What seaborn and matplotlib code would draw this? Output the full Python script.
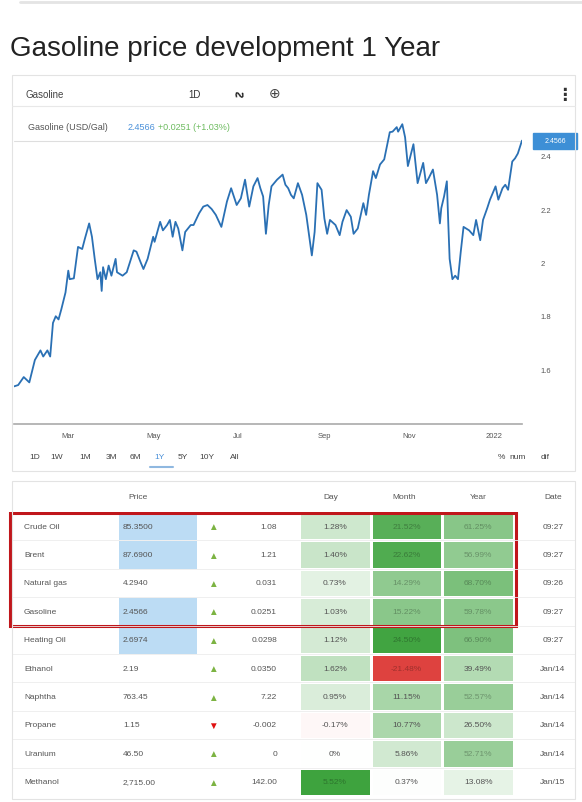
import numpy as np
import pandas as pd
import seaborn as sns
import matplotlib.pyplot as plt
from matplotlib.colors import LinearSegmentedColormap, ListedColormap
from matplotlib.patches import Rectangle
from matplotlib.ticker import FuncFormatter

sns.set_theme(style="white")
plt.rcParams['font.family'] = ['Liberation Sans', 'DejaVu Sans']

W, H = 582, 803

#%% data - gasoline price, 1 year
start = pd.Timestamp("2021-03-01")
day_offset = [-39, -36, -32, -28, -24, -20, -18, -15, -13, -11,
              -9, -7, -5, -2, 0, 1, 4, 7, 10, 12,
              15, 17, 19, 21, 23, 24, 25, 27, 29, 31,
              34, 35, 39, 42, 47, 49, 52, 54, 57, 61,
              62, 66, 68, 71, 73, 75, 77, 79, 82, 84,
              88, 90, 94, 97, 100, 103, 106, 110, 114, 117,
              121, 124, 127, 130, 133, 136, 138, 140, 142, 144,
              146, 150, 154, 156, 158, 160, 162, 165, 168, 171,
              175, 177, 179, 182, 184, 186, 188, 192, 195, 197,
              200, 203, 205, 208, 212, 214, 216, 219, 221, 224,
              227, 231, 233, 236, 237, 240, 242, 244, 248, 251,
              255, 257, 259, 262, 265, 267, 268, 270, 272, 273,
              274, 276, 278, 280, 282, 284, 288, 291, 293, 296,
              298, 301, 303, 307, 309, 312, 314, 316, 319, 321,
              323, 326]
gas_price = [1.535, 1.54, 1.57, 1.55, 1.634, 1.67, 1.647, 1.67, 1.647, 1.773,
             1.798, 1.786, 1.824, 1.887, 1.969, 1.937, 1.94, 2.058, 2.05, 2.09,
             2.146, 2.096, 2.013, 1.937, 1.963, 1.893, 1.982, 1.937, 1.988, 1.95,
             2.013, 1.963, 1.95, 1.963, 2.045, 2.04, 2.0, 1.975, 2.013, 2.096,
             2.077, 2.152, 2.12, 2.14, 2.159, 2.096, 2.152, 2.127, 2.045, 2.114,
             2.14, 2.14, 2.184, 2.209, 2.215, 2.2, 2.178, 2.133, 2.228, 2.278,
             2.215, 2.24, 2.31, 2.209, 2.285, 2.316, 2.278, 2.247, 2.107, 2.215,
             2.285, 2.31, 2.329, 2.291, 2.278, 2.253, 2.24, 2.297, 2.253, 2.178,
             2.026, 2.114, 2.297, 2.272, 2.165, 2.107, 2.159, 2.14, 2.102, 2.152,
             2.196, 2.171, 2.107, 2.127, 2.222, 2.178, 2.253, 2.342, 2.316, 2.367,
             2.386, 2.488, 2.49, 2.507, 2.49, 2.518, 2.469, 2.361, 2.443, 2.297,
             2.373, 2.297, 2.316, 2.348, 2.253, 2.146, 2.203, 2.247, 2.304, 2.152,
             2.013, 1.937, 1.95, 1.937, 2.04, 2.133, 2.12, 2.102, 2.159, 2.083,
             2.159, 2.203, 2.235, 2.285, 2.235, 2.278, 2.291, 2.272, 2.378, 2.39,
             2.408, 2.4566]
last_price = 2.4566

y_ticks = [1.6, 1.8, 2.0, 2.2, 2.4]
x_ticks = ["2021-03-01", "2021-05-01", "2021-07-01", "2021-09-01", "2021-11-01", "2022-01-01"]
x_ticklabels = ["Mar", "May", "Jul", "Sep", "Nov", "2022"]
ranges = ["1D", "1W", "1M", "3M", "6M", "1Y", "5Y", "10Y", "All"]
modes = ["%", "num", "dif"]

#%% data - table
names = ["Crude Oil", "Brent", "Natural gas", "Gasoline", "Heating Oil",
         "Ethanol", "Naphtha", "Propane", "Uranium", "Methanol"]
prices = ["85.3500", "87.6900", "4.2940", "2.4566", "2.6974",
          "2.19", "763.45", "1.15", "46.50", "2,715.00"]
just_updated = [1, 1, 0, 1, 1, 0, 0, 0, 0, 0]
changes = ["1.08", "1.21", "0.031", "0.0251", "0.0298",
           "0.0350", "7.22", "-0.002", "0", "142.00"]
day_pct = [1.28, 1.40, 0.73, 1.03, 1.12, 1.62, 0.95, -0.17, 0, 5.52]
month_pct = [21.52, 22.62, 14.29, 15.22, 24.50, -21.48, 11.15, 10.77, 5.86, 0.37]
year_pct = [61.25, 56.99, 68.70, 59.78, 66.90, 39.49, 52.57, 26.50, 52.71, 13.08]
dates = ["09:27", "09:27", "09:26", "09:27", "09:27",
         "Jan/14", "Jan/14", "Jan/14", "Jan/14", "Jan/15"]


def box(x0, y0, x1, y1):
    # pixel rectangle -> figure fraction
    return [x0 / W, 1 - y1 / H, (x1 - x0) / W, (y1 - y0) / H]


def ftext(x, y, s, **kw):
    kw.setdefault('va', 'center')
    return fig.text(x / W, 1 - y / H, s, **kw)


def fbox(x0, y0, x1, y1, **kw):
    fig.patches.append(Rectangle((x0 / W, 1 - y1 / H), (x1 - x0) / W, (y1 - y0) / H,
                                 transform=fig.transFigure, fill=False, **kw))


fig = plt.figure(figsize=(W / 100, H / 100), dpi=100)

# page frame
fig.add_artist(plt.Line2D([20 / W, 1], [1 - 3 / H, 1 - 3 / H], transform=fig.transFigure,
                          color='#e4e4e4', lw=2))
ftext(10, 56, "Gasoline price development 1 Year", fontsize=20, color='#222222', va='baseline')

fbox(12, 76, 575, 472, ec='#e3e3e3', lw=0.8)
fbox(12, 482, 575, 800, ec='#e3e3e3', lw=0.8)

#%% chart header
ftext(25, 95, "Gasoline", fontsize=7, color='#444444')
ftext(188, 95, "1D", fontsize=7, color='#333333')
ftext(231, 94, "∿", fontsize=10, color='#222222', fontweight='bold', rotation=25,
      family=['DejaVu Sans'])
ftext(269, 94, "⊕", fontsize=10, color='#444444', family=['DejaVu Sans'])
ftext(556, 95, "⋮", fontsize=12, color='#333333', fontweight='bold', family=['DejaVu Sans'])
fig.add_artist(plt.Line2D([12 / W, 575 / W], [1 - 107 / H, 1 - 107 / H],
                          transform=fig.transFigure, color='#e8e8e8', lw=0.8))

ftext(28, 127, "Gasoline (USD/Gal)", fontsize=6.5, color='#555555')
ftext(128, 127, f"{last_price:.4f}", fontsize=6.5, color='#4a90d9')
ftext(158, 127, f"+{changes[3]} (+{day_pct[3]:.2f}%)", fontsize=6.5, color='#6dbb5f')

#%% line chart
ax = fig.add_axes(box(14, 120, 522, 425))
df = pd.DataFrame({"date": start + pd.to_timedelta(day_offset, unit="D"),
                   "price": gas_price})
ax.axhline(last_price, color='#dedede', lw=0.8, zorder=0)
sns.lineplot(data=df, x="date", y="price", ax=ax, color='#2a70b4', lw=1.3)
ax.set_xlim(df["date"].min(), df["date"].max())
ax.set_ylim(1.394, 2.5375)
ax.set_xlabel("")
ax.set_ylabel("")
ax.yaxis.tick_right()
ax.set_yticks(y_ticks)
ax.yaxis.set_major_formatter(FuncFormatter(lambda v, p: f"{v:g}"))
ax.tick_params(axis='y', length=0, pad=13.5, labelsize=5.5, labelcolor='#555555')
ax.set_xticks(pd.to_datetime(x_ticks))
ax.set_xticklabels(x_ticklabels)
ax.tick_params(axis='x', length=0, pad=5.5, labelsize=5.5, labelcolor='#555555')
for s in ['top', 'left', 'right']:
    ax.spines[s].set_visible(False)
ax.spines['bottom'].set_color('#aaaaaa')
ax.spines['bottom'].set_linewidth(1.2)

# last price tag
ytr = ax.get_yaxis_transform()
ax.add_patch(Rectangle((1.022, last_price - 0.03), 0.086, 0.06, transform=ytr,
                       color='#3d8fd6', clip_on=False, zorder=5))
ax.text(1.065, last_price, f"{last_price:.4f}", transform=ytr, ha='center', va='center',
        color='white', fontsize=5, zorder=6, clip_on=False)

#%% range buttons
for lab, x in zip(ranges, [35, 57, 85, 111, 135, 159, 183, 207, 235]):
    ftext(x, 458, lab, fontsize=6, ha='center',
          color='#4a90d9' if lab == "1Y" else '#444444')
fig.add_artist(plt.Line2D([150 / W, 173 / W], [1 - 468 / H, 1 - 468 / H],
                          transform=fig.transFigure, color='#8fb8e0', lw=1.5))
for lab, x in zip(modes, [501, 518, 545]):
    ftext(x, 458, lab, fontsize=6, ha='center', color='#444444')

#%% table
top, bottom = 513, 797
n = len(names)

# price column (blue = just updated)
pax = fig.add_axes(box(118, top, 197, bottom))
sns.heatmap(np.array(just_updated).reshape(-1, 1), ax=pax, cbar=False, vmin=0, vmax=1,
            cmap=ListedColormap(['white', '#bcdcf4']), linewidths=0.4, linecolor='white')
pax.axis('off')

# day / month / year performance
pct = np.column_stack([day_pct, month_pct, year_pct])
shade = np.clip(pct / np.array([5, 25, 100]), -1, 1)
labels = np.array([[f"{v:.2f}%" if v != 0 else "0%" for v in row] for row in pct])
cmap = LinearSegmentedColormap.from_list("rg", ['#d8231f', 'white', '#3ea33e'])
hax = fig.add_axes(box(299, top, 514, bottom))
sns.heatmap(shade, ax=hax, cmap=cmap, vmin=-1, vmax=1, cbar=False,
            annot=labels, fmt="", annot_kws={'fontsize': 6},
            linewidths=1.0, linecolor='white')
hax.axis('off')
for t, s in zip(hax.texts, shade.ravel()):
    if abs(s) >= 0.45:
        r, g, b, _ = cmap((s + 1) / 2)
        t.set_color((r * 0.72, g * 0.72, b * 0.72))
    else:
        t.set_color('#555555')

# text columns
tax = fig.add_axes(box(0, top, W, bottom), facecolor='none')
tax.set_xlim(0, W)
tax.set_ylim(n, 0)
tax.axis('off')
for i in range(1, n):
    tax.plot([12, 575], [i, i], color='#ececec', lw=0.6)
for i in range(n):
    y = i + 0.5
    tax.text(24, y, names[i], fontsize=6, color='#555555', va='center')
    tax.text(123, y, prices[i], fontsize=6, color='#555555', va='center')
    up = not changes[i].startswith('-')
    tax.text(213, y, "▲" if up else "▼", fontsize=7, ha='center', va='center',
             color='#7cb342' if up else '#e01010')
    tax.text(277, y, changes[i], fontsize=6, color='#555555', ha='right', va='center')
    tax.text(553, y, dates[i], fontsize=6, color='#555555', ha='center', va='center')

# energy rows frame
tax.add_patch(Rectangle((10, 0.05), 506, 3.97, fill=False, ec='#c0161b', lw=2.2))

# header row
ftext(128, 498, "Price", fontsize=6, color='#555555')
for lab, x in zip(["Day", "Month", "Year", "Date"], [331, 404, 478, 553]):
    ftext(x, 498, lab, fontsize=6, color='#555555', ha='center')

fig.savefig("out.png", dpi=100)
